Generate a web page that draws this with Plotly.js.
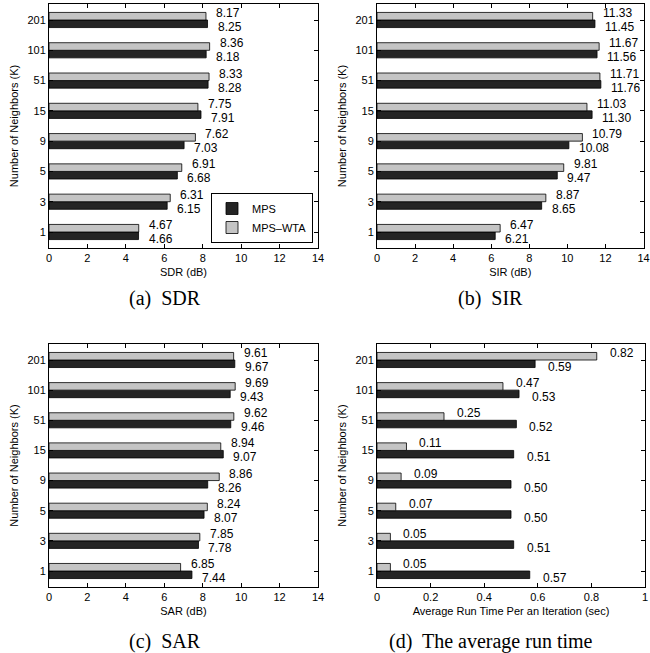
<!DOCTYPE html>
<html>
<head>
<meta charset="utf-8">
<script src="https://cdn.plot.ly/plotly-3.0.1.min.js"></script>
<style>html,body{margin:0;padding:0;background:#fff;}#chart{width:650px;height:653px;}</style>
</head>
<body>
<div id="chart"></div>
<script>
// Number of neighbors (K) categories, bottom to top
const neighbors = ['1', '3', '5', '9', '15', '51', '101', '201'];

// (a) SDR (dB)
const sdrMPS    = [4.66, 6.15, 6.68, 7.03, 7.91, 8.28, 8.18, 8.25];
const sdrMPSWTA = [4.67, 6.31, 6.91, 7.62, 7.75, 8.33, 8.36, 8.17];

// (b) SIR (dB)
const sirMPS    = [6.21, 8.65, 9.47, 10.08, 11.30, 11.76, 11.56, 11.45];
const sirMPSWTA = [6.47, 8.87, 9.81, 10.79, 11.03, 11.71, 11.67, 11.33];

// (c) SAR (dB)
const sarMPS    = [7.44, 7.78, 8.07, 8.26, 9.07, 9.46, 9.43, 9.67];
const sarMPSWTA = [6.85, 7.85, 8.24, 8.86, 8.94, 9.62, 9.69, 9.61];

// (d) Average run time per iteration (sec)
const timeMPS    = [0.57, 0.51, 0.50, 0.50, 0.51, 0.52, 0.53, 0.59];
const timeMPSWTA = [0.05, 0.05, 0.07, 0.09, 0.11, 0.25, 0.47, 0.82];

const seriesNames = ['MPS', 'MPS\u2013WTA'];
const xTitles = ['SDR (dB)', 'SIR (dB)', 'SAR (dB)', 'Average Run Time Per an Iteration (sec)'];
const captions = ['(a)  SDR', '(b)  SIR', '(c)  SAR', '(d)  The average run time'];

const panels = [
  {mps: sdrMPS, wta: sdrMPSWTA, xa: 'x',  ya: 'y'},
  {mps: sirMPS, wta: sirMPSWTA, xa: 'x2', ya: 'y2'},
  {mps: sarMPS, wta: sarMPSWTA, xa: 'x3', ya: 'y3'},
  {mps: timeMPS, wta: timeMPSWTA, xa: 'x4', ya: 'y4'}
];

const darkCol = '#242424';
const lightCol = '#c4c4c4';
const sans = 'Liberation Sans, Arial, sans-serif';
const serif = 'Liberation Serif, Times New Roman, serif';

const traces = [];
const annotations = [];
panels.forEach((p, pi) => {
  traces.push({
    type: 'bar', orientation: 'h', name: seriesNames[0],
    y: neighbors, x: p.mps, xaxis: p.xa, yaxis: p.ya,
    marker: {color: darkCol, line: {color: '#000', width: 0.8}},
    showlegend: pi === 0, hoverinfo: 'skip'
  });
  traces.push({
    type: 'bar', orientation: 'h', name: seriesNames[1],
    y: neighbors, x: p.wta, xaxis: p.xa, yaxis: p.ya,
    marker: {color: lightCol, line: {color: '#000', width: 0.8}},
    showlegend: pi === 0, hoverinfo: 'skip'
  });
  const xs = pi === 3 ? 11 : 8;
  neighbors.forEach((c, i) => {
    annotations.push({
      xref: p.xa, yref: p.ya, x: p.wta[i], y: i, xanchor: 'left', yanchor: 'middle',
      xshift: xs, yshift: 7, showarrow: false, text: p.wta[i].toFixed(2),
      font: {family: sans, size: 12, color: '#000'}
    });
    annotations.push({
      xref: p.xa, yref: p.ya, x: p.mps[i], y: i, xanchor: 'left', yanchor: 'middle',
      xshift: xs, yshift: -7, showarrow: false, text: p.mps[i].toFixed(2),
      font: {family: sans, size: 12, color: '#000'}
    });
  });
});

const capPos = [[165, 298], [490, 298], [165, 641], [491, 641]];
captions.forEach((t, i) => {
  annotations.push({
    xref: 'paper', yref: 'paper', x: capPos[i][0] / 650, y: 1 - capPos[i][1] / 653,
    xanchor: 'center', yanchor: 'middle', showarrow: false, text: t,
    font: {family: serif, size: 20, color: '#000'}
  });
});

const colL = [49 / 650, 318 / 650];
const colRb = [377 / 650, 643.5 / 650];
const colR = [377 / 650, 645 / 650];
const rowT = [1 - 248 / 653, 1 - 4 / 653];
const rowB = [1 - 587 / 653, 1 - 344 / 653];

function xax(domain, anchor, range, dtick, title) {
  return {
    domain: domain, anchor: anchor, range: range, dtick: dtick, tick0: 0,
    showgrid: false, zeroline: false, showline: true, mirror: 'ticks',
    linecolor: '#000', linewidth: 1, ticks: 'inside', ticklen: 4, tickcolor: '#000',
    ticklabeloverflow: 'allow',
    tickfont: {family: sans, size: 11, color: '#000'},
    title: {text: title, font: {family: sans, size: 11, color: '#000'}, standoff: 5},
    fixedrange: true
  };
}
function yax(domain, anchor) {
  return {
    domain: domain, anchor: anchor, type: 'category',
    categoryorder: 'array', categoryarray: neighbors,
    showgrid: false, zeroline: false, showline: true, mirror: 'ticks',
    linecolor: '#000', linewidth: 1, ticks: 'inside', ticklen: 4, tickcolor: '#000',
    tickfont: {family: sans, size: 11, color: '#000'},
    title: {text: 'Number of Neighbors (K)', font: {family: sans, size: 11, color: '#000'}, standoff: 6},
    fixedrange: true
  };
}

const layout = {
  width: 650, height: 653,
  margin: {l: 0, r: 0, t: 0, b: 0},
  paper_bgcolor: '#fff', plot_bgcolor: '#fff',
  barmode: 'group', bargap: 0.5, bargroupgap: 0,
  xaxis:  xax(colL, 'y',  [0, 14], 2, xTitles[0]),
  xaxis2: xax(colRb, 'y2', [0, 14], 2, xTitles[1]),
  xaxis3: xax(colL, 'y3', [0, 14], 2, xTitles[2]),
  xaxis4: xax(colR, 'y4', [0, 1], 0.2, xTitles[3]),
  yaxis:  yax(rowT, 'x'),
  yaxis2: yax(rowT, 'x2'),
  yaxis3: yax(rowB, 'x3'),
  yaxis4: yax(rowB, 'x4'),
  legend: {
    x: 313 / 650, y: 1 - 243 / 653, xanchor: 'right', yanchor: 'bottom',
    traceorder: 'normal', bgcolor: '#fff', bordercolor: '#000', borderwidth: 1,
    font: {family: sans, size: 11, color: '#000'}, itemwidth: 30, tracegroupgap: 0
  },
  annotations: annotations,
  showlegend: true
};

Plotly.newPlot('chart', traces, layout, {staticPlot: true, displayModeBar: false});
</script>
</body>
</html>
